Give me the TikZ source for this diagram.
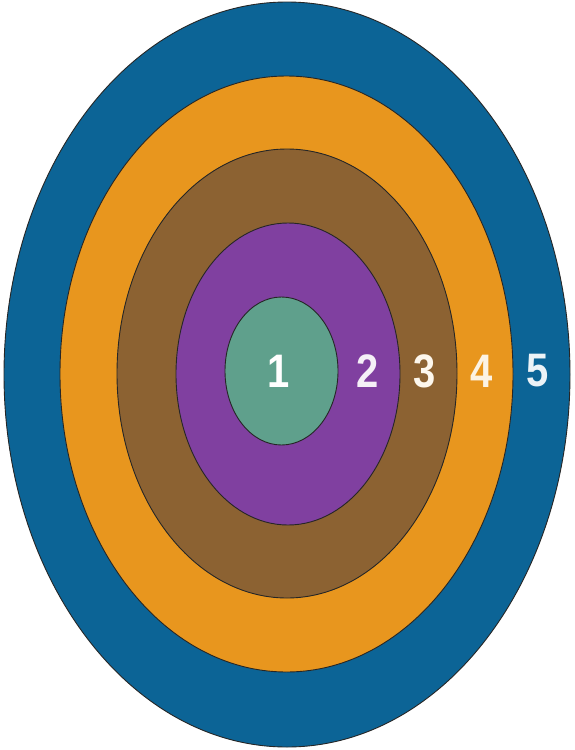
\documentclass[tikz,border=0pt]{standalone}
\usepackage{fontspec}
\setmainfont{Liberation Sans}
\definecolor{ringblue}{RGB}{12,100,150}
\definecolor{ringorange}{RGB}{232,150,30}
\definecolor{ringbrown}{RGB}{140,98,50}
\definecolor{ringpurple}{RGB}{128,64,160}
\definecolor{ringgreen}{RGB}{95,160,140}
\tikzset{
  ring/.style={draw=black!85, line width=0.9pt},
  num/.style={font=\bfseries\fontsize{47}{47}\selectfont, xscale=0.85, inner sep=0pt, anchor=center}
}
\begin{document}
\begin{tikzpicture}[x=1pt,y=-1pt]
\useasboundingbox (0,0) rectangle (574,750);
\fill[white] (0,0) rectangle (574,750);
\draw[ring, fill=ringblue]   (287,374.5) ellipse [x radius=283, y radius=372.5];
\draw[ring, fill=ringorange] (286.5,374) ellipse [x radius=226.5, y radius=298];
\draw[ring, fill=ringbrown]  (287,373.5) ellipse [x radius=170, y radius=224.5];
\draw[ring, fill=ringpurple] (288,374) ellipse [x radius=112, y radius=151];
\draw[ring, fill=ringgreen]  (281.5,371) ellipse [x radius=56.5, y radius=74];
\node[num, text=white]          (n1) at (279,371) {1};
\node[num, text=white!92!ringpurple] (n2) at (368,371) {2};
\node[num, text=white!92!ringorange] (n3) at (425,371) {3};
\node[num, text=white!88!ringorange] (n4) at (482,371) {4};
\node[num, text=white!92!ringblue]   (n5) at (538,371) {5};
\end{tikzpicture}
\end{document}
